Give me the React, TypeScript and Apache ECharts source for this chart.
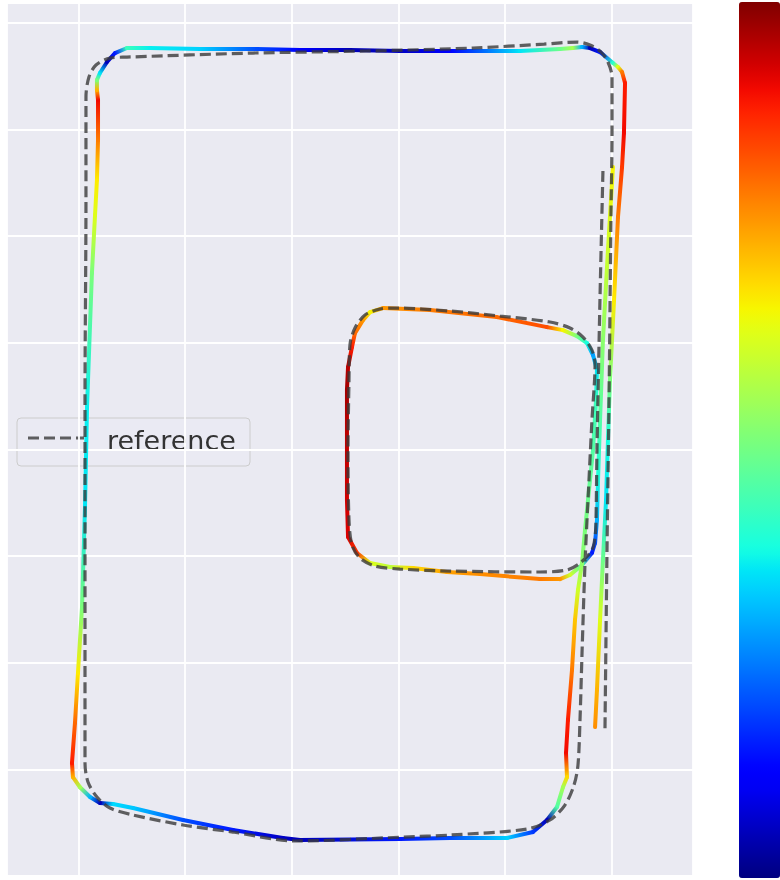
import React, { useEffect, useRef } from 'react';
import * as echarts from 'echarts';

// Reference (ground-truth) trajectory, metres
const REF_X = [491.7, 488.9, 486.1, 485.2, 484.3, 481.4, 470.2, 458.0, 432.7, 348.4, 301.5, 278.1, 264.0, 256.5, 253.7, 252.8, 253.7, 254.6, 259.3, 268.7, 282.8, 296.8, 348.4, 395.2, 442.1, 460.8, 473.0, 481.4, 484.3, 481.4, 477.7, 474.9, 472.1, 470.2, 468.3, 464.6, 456.1, 442.1, 420.5, 348.4, 305.2, 203.1, 145.0, 98.1, 51.3, 29.7, 17.5, 9.1, 6.3, 6.3, 6.3, 7.2, 7.2, 10.0, 16.6, 29.7, 45.6, 163.7, 269.6, 369.9, 436.5, 467.4, 479.6, 489.9, 496.4, 500.2, 500.2, 499.2, 497.4, 495.5, 493.6];
const REF_Y = [561.0, 440.1, 299.5, 233.9, 218.0, 205.8, 193.6, 187.1, 185.2, 186.1, 188.0, 190.8, 198.3, 210.5, 233.9, 299.5, 365.1, 397.9, 413.9, 426.1, 431.7, 432.6, 429.8, 425.1, 419.5, 413.9, 405.4, 393.2, 380.1, 327.6, 252.7, 193.6, 109.3, 46.5, 4.3, -14.4, -33.2, -47.2, -55.7, -61.3, -63.2, -66.9, -58.5, -51.9, -42.5, -36.0, -25.7, -11.6, 6.2, 158.9, 346.4, 533.8, 630.4, 649.1, 660.4, 666.9, 667.8, 671.6, 673.5, 676.3, 680.0, 681.9, 679.1, 672.5, 663.2, 649.1, 596.6, 517.9, 346.4, 205.8, 37.1];

// Estimated trajectory, metres, with its error value (0..1) used for the colour
const EST_X = [501.1, 496.4, 491.7, 489.0, 487.1, 486.1, 484.3, 481.4, 472.1, 460.8, 451.4, 432.7, 376.5, 345.6, 313.7, 292.1, 273.4, 261.2, 252.8, 251.8, 251.8, 251.8, 252.8, 256.5, 259.3, 266.8, 273.4, 285.6, 329.6, 392.4, 439.3, 454.2, 467.4, 476.8, 482.4, 486.1, 485.2, 482.4, 477.7, 474.9, 472.1, 468.3, 465.5, 462.7, 458.9, 457.1, 458.0, 454.2, 448.6, 439.3, 426.1, 401.8, 348.4, 301.5, 207.8, 191.8, 145.0, 98.1, 51.3, 32.5, 20.3, 11.0, 1.6, -5.0, -5.9, -3.1, -0.3, 3.5, 6.3, 8.2, 12.8, 15.7, 17.5, 18.5, 18.5, 17.5, 17.5, 20.3, 26.9, 34.4, 45.6, 67.2, 114.1, 167.5, 207.8, 254.6, 301.5, 348.4, 385.8, 413.9, 451.4, 463.6, 472.1, 479.6, 489.0, 501.1, 505.8, 509.6, 512.4, 511.4, 509.6, 505.8, 502.1, 498.3, 496.4, 494.6, 491.7, 489.0, 486.1, 484.3];
const EST_Y = [564.8, 487.0, 402.6, 327.6, 271.5, 233.9, 212.4, 203.0, 191.7, 182.4, 178.6, 178.6, 183.3, 185.2, 188.9, 189.9, 193.6, 203.0, 218.0, 252.7, 324.8, 355.7, 377.3, 396.1, 409.1, 421.3, 428.8, 432.6, 430.7, 424.1, 414.7, 411.9, 406.3, 399.8, 388.6, 374.5, 346.4, 299.5, 252.7, 224.6, 193.6, 168.3, 140.2, 93.4, 46.5, 15.6, -7.1, -16.5, -35.1, -47.2, -58.5, -64.1, -64.1, -65.0, -66.0, -64.1, -56.6, -47.2, -36.0, -32.3, -31.3, -25.7, -16.5, -7.1, 6.2, 43.7, 90.5, 152.4, 245.9, 339.8, 465.4, 519.8, 552.6, 590.1, 627.6, 637.0, 646.3, 652.9, 663.2, 671.6, 676.3, 676.3, 675.3, 675.3, 674.4, 674.4, 673.5, 673.5, 673.5, 673.5, 675.3, 676.3, 677.2, 676.3, 672.5, 662.3, 658.5, 653.8, 643.5, 596.6, 564.8, 517.9, 440.1, 365.1, 308.9, 252.7, 196.4, 140.2, 74.6, 39.9];
const EST_ERR = [0.65, 0.60, 0.52, 0.45, 0.38, 0.30, 0.20, 0.15, 0.45, 0.60, 0.75, 0.78, 0.76, 0.74, 0.68, 0.58, 0.62, 0.85, 0.92, 0.93, 0.95, 0.97, 0.95, 0.88, 0.80, 0.75, 0.65, 0.75, 0.78, 0.80, 0.83, 0.65, 0.50, 0.38, 0.28, 0.35, 0.42, 0.45, 0.48, 0.50, 0.52, 0.60, 0.70, 0.78, 0.88, 0.90, 0.68, 0.55, 0.45, 0.05, 0.18, 0.33, 0.20, 0.15, 0.05, 0.06, 0.15, 0.20, 0.32, 0.34, 0.05, 0.30, 0.55, 0.72, 0.88, 0.80, 0.66, 0.50, 0.35, 0.36, 0.50, 0.62, 0.66, 0.78, 0.90, 0.72, 0.50, 0.35, 0.05, 0.15, 0.42, 0.36, 0.33, 0.20, 0.12, 0.05, 0.06, 0.12, 0.25, 0.35, 0.48, 0.55, 0.30, 0.05, 0.15, 0.40, 0.62, 0.78, 0.88, 0.90, 0.85, 0.78, 0.66, 0.50, 0.38, 0.35, 0.48, 0.62, 0.72, 0.76];

const X_MIN = -66.8;
const X_MAX = 576.1;
const Y_MIN = -99.7;
const Y_MAX = 718.5;
const GRID_STEP = 100;
const ERR_MIN = 0;
const ERR_MAX = 1;
const LEGEND_LABEL = 'reference';

// matplotlib "jet" colormap
const JET_R: number[][] = [[0, 0], [0.35, 0], [0.66, 1], [0.89, 1], [1, 0.5]];
const JET_G: number[][] = [[0, 0], [0.125, 0], [0.375, 1], [0.64, 1], [0.91, 0], [1, 0]];
const JET_B: number[][] = [[0, 0.5], [0.11, 1], [0.34, 1], [0.65, 0], [1, 0]];

function channel(v: number, pts: number[][]): number {
  if (v <= pts[0][0]) return pts[0][1];
  for (let i = 1; i < pts.length; i++) {
    if (v <= pts[i][0]) {
      const t = (v - pts[i - 1][0]) / (pts[i][0] - pts[i - 1][0]);
      return pts[i - 1][1] + t * (pts[i][1] - pts[i - 1][1]);
    }
  }
  return pts[pts.length - 1][1];
}

function jet(v: number): string {
  const r = Math.round(255 * channel(v, JET_R));
  const g = Math.round(255 * channel(v, JET_G));
  const b = Math.round(255 * channel(v, JET_B));
  return `rgb(${r},${g},${b})`;
}

const JET_SAMPLES: string[] = [];
for (let i = 0; i <= 40; i++) JET_SAMPLES.push(jet(i / 40));

const DASH_COLOR = 'rgba(58,58,58,0.8)';
const DASH: number[] = [11, 5];

export default function App() {
  const ref = useRef<HTMLDivElement>(null);

  useEffect(() => {
    if (!ref.current) return;
    const chart = echarts.init(ref.current, null, { renderer: 'svg' });

    const refData = REF_X.map((x, i) => [x, REF_Y[i]]);
    const estData = EST_X.map((x, i) => [x, EST_Y[i], EST_ERR[i]]);

    const axisCommon = {
      type: 'value' as const,
      minInterval: GRID_STEP,
      maxInterval: GRID_STEP,
      axisLabel: { show: false },
      axisTick: { show: false },
      axisLine: { show: false },
      splitLine: { show: true, lineStyle: { color: '#ffffff', width: 1.8 } },
    };

    const option: any = {
      animation: false,
      grid: {
        left: 7,
        top: 3,
        width: 686,
        height: 873,
        show: true,
        backgroundColor: '#EAEAF2',
        borderWidth: 0,
      },
      xAxis: { ...axisCommon, min: X_MIN, max: X_MAX },
      yAxis: { ...axisCommon, min: Y_MIN, max: Y_MAX },
      visualMap: {
        type: 'continuous',
        min: ERR_MIN,
        max: ERR_MAX,
        dimension: 2,
        seriesIndex: 0,
        calculable: false,
        hoverLink: false,
        orient: 'vertical',
        left: 739,
        top: 2,
        padding: 0,
        itemWidth: 41,
        itemHeight: 876,
        inRange: { color: JET_SAMPLES },
        textStyle: { color: 'transparent' },
      },
      series: [
        {
          type: 'custom',
          silent: true,
          z: 2,
          encode: { x: 0, y: 1 },
          data: estData,
          renderItem: (params: any, api: any) => {
            const i = params.dataIndex;
            if (i >= EST_X.length - 1) return { type: 'group', children: [] };
            const p1 = api.coord([EST_X[i], EST_Y[i]]);
            const p2 = api.coord([EST_X[i + 1], EST_Y[i + 1]]);
            const grad = new echarts.graphic.LinearGradient(
              p1[0], p1[1], p2[0], p2[1],
              [
                { offset: 0, color: jet(EST_ERR[i]) },
                { offset: 1, color: jet(EST_ERR[i + 1]) },
              ],
              true
            );
            return {
              type: 'line',
              shape: { x1: p1[0], y1: p1[1], x2: p2[0], y2: p2[1] },
              style: { stroke: grad, lineWidth: 4, lineCap: 'round' },
            };
          },
        },
        {
          type: 'line',
          name: LEGEND_LABEL,
          silent: true,
          z: 3,
          data: refData,
          showSymbol: false,
          symbol: 'none',
          smooth: 0.3,
          lineStyle: { color: DASH_COLOR, width: 3.2, type: DASH },
        },
      ],
      graphic: [
        {
          type: 'group',
          z: 100,
          children: [
            {
              type: 'rect',
              shape: { x: 17, y: 418, width: 233, height: 48, r: 4 },
              style: { fill: 'rgba(234,234,242,0.8)', stroke: '#cccccc', lineWidth: 1 },
            },
            {
              type: 'line',
              shape: { x1: 28, y1: 438, x2: 84, y2: 438 },
              style: { stroke: DASH_COLOR, lineWidth: 3.2, lineDash: DASH },
            },
            {
              type: 'text',
              x: 107,
              y: 440,
              style: {
                text: LEGEND_LABEL,
                fontFamily: 'DejaVu Sans',
                fontSize: 27,
                fill: '#333333',
                verticalAlign: 'middle',
                align: 'left',
              },
            },
          ],
        },
      ],
    };

    chart.setOption(option);
    return () => chart.dispose();
  }, []);

  return (
    <div
      ref={ref}
      style={{ position: 'fixed', left: 0, top: 0, width: 780, height: 880 }}
    />
  );
}
